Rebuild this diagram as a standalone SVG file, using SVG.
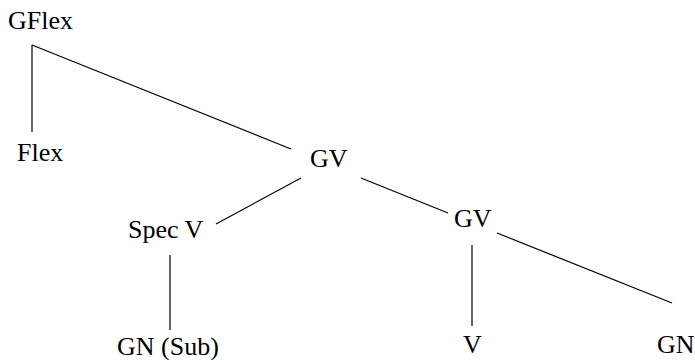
<svg xmlns="http://www.w3.org/2000/svg" width="695" height="360" viewBox="0 0 695 360">
<style>
text{font-family:"Liberation Serif","Times New Roman",serif;font-size:26px;fill:#000}
.e line{stroke:#000;stroke-width:1.2}
</style>
<rect width="695" height="360" fill="#fff"/>
<g class="e" id="connectors">
<line x1="32" y1="45" x2="32" y2="132"/>
<line x1="32" y1="45" x2="291" y2="149"/>
<line x1="301" y1="178" x2="216" y2="224"/>
<line x1="361" y1="178" x2="448" y2="213"/>
<line x1="170" y1="255" x2="170" y2="330"/>
<line x1="472" y1="245" x2="472" y2="326"/>
<line x1="497" y1="233" x2="672" y2="303"/>
</g>
<g id="gflex"><text x="8" y="29">GFlex</text></g>
<g id="flex"><text x="17" y="161">Flex</text></g>
<g id="gv1"><text x="310" y="167">GV</text></g>
<g id="specv"><text x="128" y="238">Spec V</text></g>
<g id="gv2"><text x="454" y="227">GV</text></g>
<g id="gnsub"><text x="117" y="355">GN (Sub)</text></g>
<g id="v"><text x="463" y="353">V</text></g>
<g id="gn"><text x="657" y="353">GN</text></g>
</svg>
